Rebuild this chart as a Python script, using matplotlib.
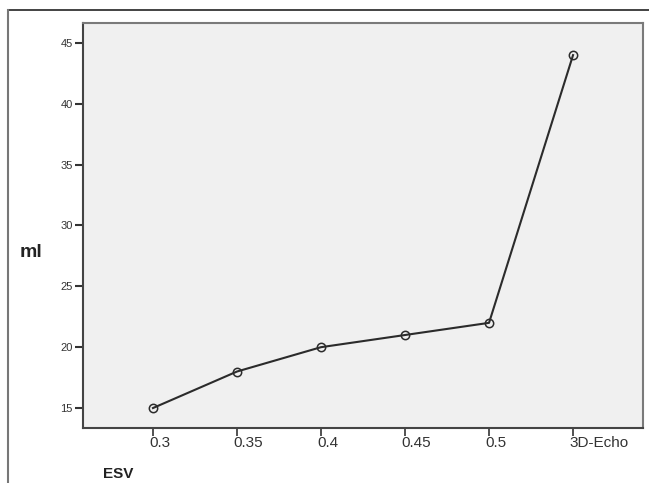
import matplotlib
matplotlib.use("Agg")
import matplotlib.pyplot as plt
import matplotlib.transforms as mtransforms
from matplotlib.lines import Line2D

plt.rcParams['font.family'] = ['Liberation Sans', 'DejaVu Sans']

# data
categories = ["0.3", "0.35", "0.4", "0.45", "0.5", "3D-Echo"]
ml_values = [15, 18, 20, 21, 22, 44]
y_ticks = [15, 20, 25, 30, 35, 40, 45]

fig = plt.figure(figsize=(6.49, 4.83), dpi=100)
ax = fig.add_axes([0.1279, 0.1139, 0.8629, 0.8385])
ax.set_facecolor("#f0f0f0")

x = list(range(len(categories)))
ax.plot(x, ml_values, color="#2b2b2b", lw=1.5, marker="o", ms=6,
        mfc="none", mec="#2b2b2b", mew=1.1)

ax.set_xlim(-0.833, 5.833)
ax.set_ylim(13.36, 46.64)
ax.set_yticks(y_ticks)
ax.set_yticklabels([str(v) for v in y_ticks], fontsize=8, color="#333333")
ax.set_xticks(x)
ax.set_xticklabels(categories, fontsize=11, color="#333333", ha="left")

ax.tick_params(axis="y", direction="out", length=5.8, width=1.5, color="#333333", pad=1.5)
ax.tick_params(axis="x", direction="out", length=6, width=1.2, color="#333333", pad=-0.5)

# shift x labels a bit left so the tick runs into them
offset = mtransforms.ScaledTranslation(-2.5 / 72, 0, fig.dpi_scale_trans)
for lab in ax.get_xticklabels():
    lab.set_transform(lab.get_transform() + offset)

for s in ax.spines.values():
    s.set_color("#7a7a7a")
    s.set_linewidth(1.5)
ax.spines["bottom"].set_color("#444444")
ax.spines["left"].set_color("#444444")

fig.text(0.031, 0.468, "ml", fontsize=14, fontweight="bold", color="#222222", va="baseline")
fig.text(0.159, 0.0104, "ESV", fontsize=11, fontweight="bold", color="#222222", va="baseline")

# outer frame (top and left edges)
fig.add_artist(Line2D([0.013, 1.0], [0.979, 0.979], color="#222222", lw=1.2))
fig.add_artist(Line2D([0.013, 0.013], [0.0, 0.979], color="#777777", lw=1.5))

fig.savefig("out.png", dpi=100)
